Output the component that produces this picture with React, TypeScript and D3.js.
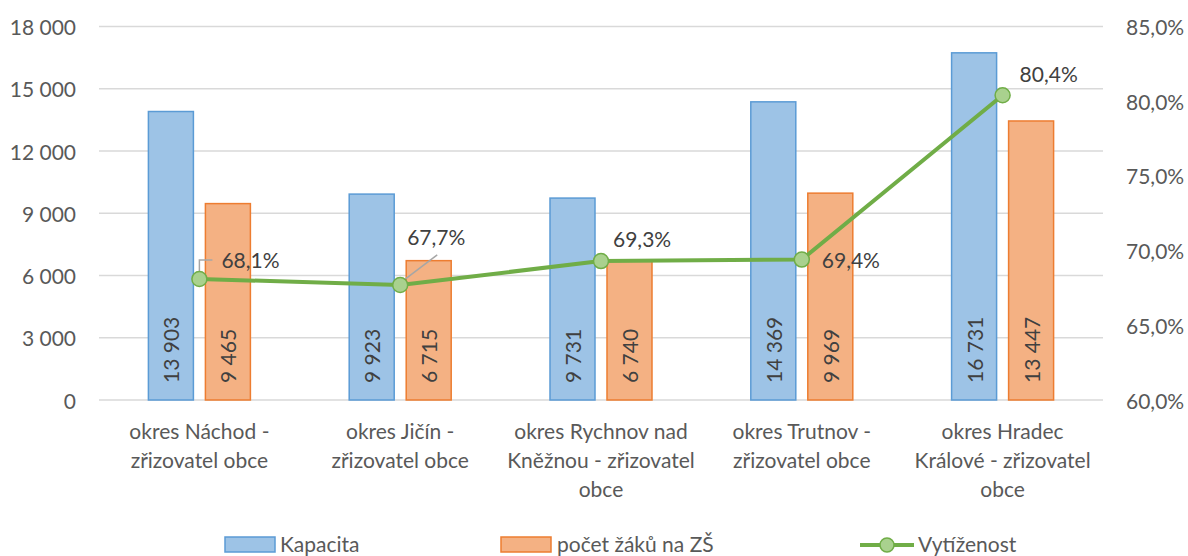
import React from 'react';
import * as d3 from 'd3';

const categories = [
  'okres Náchod - zřizovatel obce',
  'okres Jičín - zřizovatel obce',
  'okres Rychnov nad Kněžnou - zřizovatel obce',
  'okres Trutnov - zřizovatel obce',
  'okres Hradec Králové - zřizovatel obce',
];
const categoryLines = [
  ['okres Náchod -', 'zřizovatel obce'],
  ['okres Jičín -', 'zřizovatel obce'],
  ['okres Rychnov nad', 'Kněžnou - zřizovatel', 'obce'],
  ['okres Trutnov -', 'zřizovatel obce'],
  ['okres Hradec', 'Králové - zřizovatel', 'obce'],
];
const kapacita = [13903, 9923, 9731, 14369, 16731];
const pocetZaku = [9465, 6715, 6740, 9969, 13447];
const vytizenost = [68.1, 67.7, 69.3, 69.4, 80.4];
const leftTicks = [0, 3000, 6000, 9000, 12000, 15000, 18000];
const rightTicks = [60, 65, 70, 75, 80, 85];

// label placement for the line labels (dx, dy from point to text start/baseline)
const pctLabelOffset = [
  [22, -11],
  [7, -40],
  [12, -14],
  [20, 8],
  [17, -13],
];

const W = 1188;
const H = 556;
const margin = { top: 26.5, right: 85, bottom: 156, left: 99 };
const FONT = 'Lato, "Open Sans", sans-serif';
const FS = 21;
const AXIS_COLOR = '#595959';
const LABEL_COLOR = '#404040';

const fmtNum = (v: number) => d3.format(',')(v).replace(/,/g, ' ');
const fmtPct = (v: number) => v.toFixed(1).replace('.', ',') + '%';

export default function App() {
  const x = d3
    .scaleBand()
    .domain(categories)
    .range([margin.left, W - margin.right]);
  const yL = d3.scaleLinear().domain([0, 18000]).range([H - margin.bottom, margin.top]);
  const yR = d3.scaleLinear().domain([60, 85]).range([H - margin.bottom, margin.top]);

  const barW = 45;
  const gap = 12;
  const cx = (c: string) => (x(c) as number) + x.bandwidth() / 2;

  const line = d3
    .line<number>()
    .x((_, i) => cx(categories[i]))
    .y((d) => yR(d));

  return (
    <svg
      width={W}
      height={H}
      style={{ position: 'absolute', left: 0, top: 0, background: '#fff' }}
      fontFamily={FONT}
    >
      {/* gridlines */}
      {leftTicks.map((t) => (
        <line
          key={t}
          x1={margin.left}
          x2={W - margin.right}
          y1={yL(t)}
          y2={yL(t)}
          stroke="#d9d9d9"
          strokeWidth={1.5}
        />
      ))}

      {/* left axis labels */}
      {leftTicks.map((t) => (
        <text
          key={'l' + t}
          x={76}
          y={yL(t)}
          textAnchor="end"
          dominantBaseline="central"
          fontSize={FS}
          fill={AXIS_COLOR}
        >
          {fmtNum(t)}
        </text>
      ))}

      {/* right axis labels */}
      {rightTicks.map((t) => (
        <text
          key={'r' + t}
          x={1126}
          y={yR(t)}
          textAnchor="start"
          dominantBaseline="central"
          fontSize={FS}
          fill={AXIS_COLOR}
        >
          {fmtPct(t)}
        </text>
      ))}

      {/* bars */}
      {categories.map((c, i) => {
        const c0 = cx(c);
        const bx = c0 - gap / 2 - barW;
        const ox = c0 + gap / 2;
        return (
          <g key={c}>
            <rect
              x={bx}
              y={yL(kapacita[i])}
              width={barW}
              height={yL(0) - yL(kapacita[i])}
              fill="#9DC3E6"
              stroke="#5B9BD5"
              strokeWidth={1.5}
            />
            <rect
              x={ox}
              y={yL(pocetZaku[i])}
              width={barW}
              height={yL(0) - yL(pocetZaku[i])}
              fill="#F4B183"
              stroke="#ED7D31"
              strokeWidth={1.5}
            />
            <text
              transform={`translate(${bx + barW / 2},${yL(0) - 17}) rotate(-90)`}
              dominantBaseline="central"
              fontSize={FS}
              fill={LABEL_COLOR}
            >
              {fmtNum(kapacita[i])}
            </text>
            <text
              transform={`translate(${ox + barW / 2},${yL(0) - 17}) rotate(-90)`}
              dominantBaseline="central"
              fontSize={FS}
              fill={LABEL_COLOR}
            >
              {fmtNum(pocetZaku[i])}
            </text>
          </g>
        );
      })}

      {/* line */}
      <path d={line(vytizenost) || ''} fill="none" stroke="#70AD47" strokeWidth={4} strokeLinejoin="round" />

      {/* leader lines */}
      <polyline
        points={`${cx(categories[0])},${yR(vytizenost[0]) - 2} ${cx(categories[0])},${yR(vytizenost[0]) - 19} ${cx(categories[0]) + 13},${yR(vytizenost[0]) - 19}`}
        fill="none"
        stroke="#a6a6a6"
        strokeWidth={1.5}
      />
      <line
        x1={cx(categories[1])}
        y1={yR(vytizenost[1]) - 2}
        x2={cx(categories[1]) + 37}
        y2={yR(vytizenost[1]) - 30}
        stroke="#a6a6a6"
        strokeWidth={1.5}
      />

      {vytizenost.map((v, i) => (
        <circle
          key={'m' + i}
          cx={cx(categories[i])}
          cy={yR(v)}
          r={7.5}
          fill="#A9D18E"
          stroke="#70AD47"
          strokeWidth={1.5}
        />
      ))}

      {vytizenost.map((v, i) => (
        <text
          key={'p' + i}
          x={cx(categories[i]) + pctLabelOffset[i][0]}
          y={yR(v) + pctLabelOffset[i][1]}
          fontSize={FS}
          fill={LABEL_COLOR}
        >
          {fmtPct(v)}
        </text>
      ))}

      {/* category labels */}
      {categories.map((c, i) => (
        <text key={'c' + i} x={cx(c)} textAnchor="middle" fontSize={FS} fill={AXIS_COLOR}>
          {categoryLines[i].map((ln, j) => (
            <tspan key={j} x={cx(c)} y={439 + j * 29}>
              {ln}
            </tspan>
          ))}
        </text>
      ))}

      {/* legend */}
      <g fontSize={FS} fill={AXIS_COLOR}>
        <rect x={225} y={537} width={50} height={15} fill="#9DC3E6" stroke="#5B9BD5" strokeWidth={1.5} />
        <text x={280} y={552}>Kapacita</text>
        <rect x={501} y={537} width={50} height={15} fill="#F4B183" stroke="#ED7D31" strokeWidth={1.5} />
        <text x={557} y={552}>počet žáků na ZŠ</text>
        <line x1={860} x2={914} y1={545} y2={545} stroke="#70AD47" strokeWidth={4} />
        <circle cx={887} cy={545} r={7} fill="#A9D18E" stroke="#70AD47" strokeWidth={1.5} />
        <text x={918} y={552}>Vytíženost</text>
      </g>
    </svg>
  );
}
